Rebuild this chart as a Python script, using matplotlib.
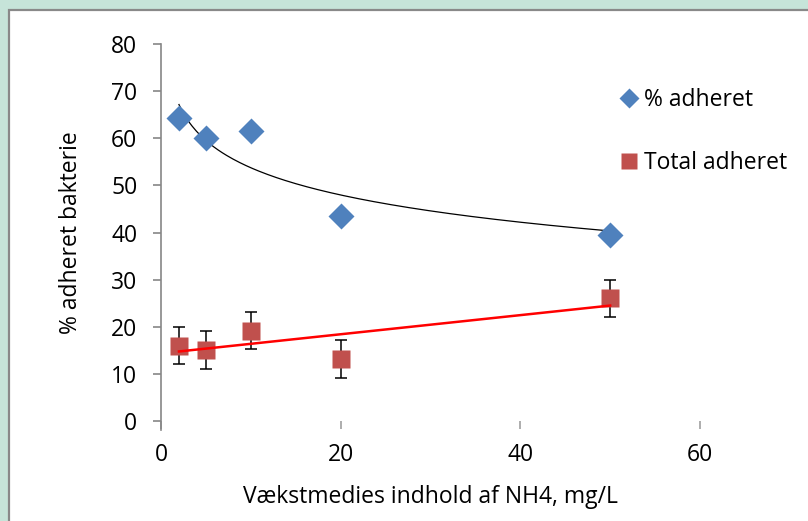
import numpy as np
import matplotlib.pyplot as plt
from matplotlib.patches import Rectangle
from matplotlib.lines import Line2D

plt.rcParams['font.family'] = ['Open Sans', 'DejaVu Sans']

# data
nh4 = [2, 5, 10, 20, 50]
pct_adheret = [64.2, 60.0, 61.5, 43.5, 39.5]
total_adheret = [16.0, 15.0, 19.2, 13.2, 26.0]
total_err = [4, 4, 4, 4, 4]
x_ticks = [0, 20, 40, 60]
y_ticks = [0, 10, 20, 30, 40, 50, 60, 70, 80]

blue = '#4f81bd'
red = '#c0504d'
fs = 16.5

fig = plt.figure(figsize=(8.08, 5.21), dpi=100)
fig.patch.set_facecolor('#c6e4d9')
# white chart panel with grey frame
fig.patches.append(Rectangle((9/808, -0.05), 1.0, (521-10)/521 + 0.05,
                             transform=fig.transFigure, facecolor='white',
                             edgecolor='#898989', linewidth=1.6, zorder=-5))

ax = fig.add_axes([161/808, 100/521, (700-161)/808, (421-44)/521])
ax.set_facecolor('none')

# trend lines (logarithmic for % adheret, linear for total)
xs = np.linspace(min(nh4), max(nh4), 200)
b, a = np.polyfit(np.log(nh4), pct_adheret, 1)
ax.plot(xs, a + b*np.log(xs), color='black', lw=0.9, zorder=2)
m, c = np.polyfit(nh4, total_adheret, 1)
ax.plot(xs, m*xs + c, color='#ff0000', lw=1.8, zorder=4)

ax.errorbar(nh4, total_adheret, yerr=total_err, fmt='none', ecolor='black',
            elinewidth=1.1, capsize=4, capthick=1.1, zorder=2)
ax.plot(nh4, pct_adheret, 'D', color=blue, ms=13, mec='none', zorder=3)
ax.plot(nh4, total_adheret, 's', color=red, ms=13, mec='none', zorder=3)

ax.set_xlim(0, 60)
ax.set_ylim(0, 80)
ax.set_xticks(x_ticks)
ax.set_yticks(y_ticks)
for s in ['top', 'right', 'bottom']:
    ax.spines[s].set_visible(False)
ax.spines['left'].set_color('#868686')
ax.spines['left'].set_linewidth(1.2)
ax.spines['left'].set_bounds(-2.0, 80)
ax.tick_params(axis='y', direction='out', length=6, width=1.2, color='#868686',
               pad=11, labelsize=fs)
ax.tick_params(axis='x', direction='out', length=6, width=1.2, color='#a0a0a0',
               pad=10, labelsize=fs)
ax.set_ylabel('% adheret bakterie', fontsize=fs, labelpad=20)
ax.set_xlabel('Vækstmedies indhold af NH4, mg/L', fontsize=fs, labelpad=13)

handles = [Line2D([], [], ls='none', marker='D', color=blue, ms=10, mec='none'),
           Line2D([], [], ls='none', marker='s', color=red, ms=11, mec='none')]
fig.legend(handles, ['% adheret', 'Total adheret'], loc='upper left',
           bbox_to_anchor=(600/808, 1 - 67/521), frameon=False, fontsize=fs,
           handlelength=0.7, handletextpad=0.3, labelspacing=1.7)

fig.savefig('out.png', dpi=100, facecolor=fig.get_facecolor())
